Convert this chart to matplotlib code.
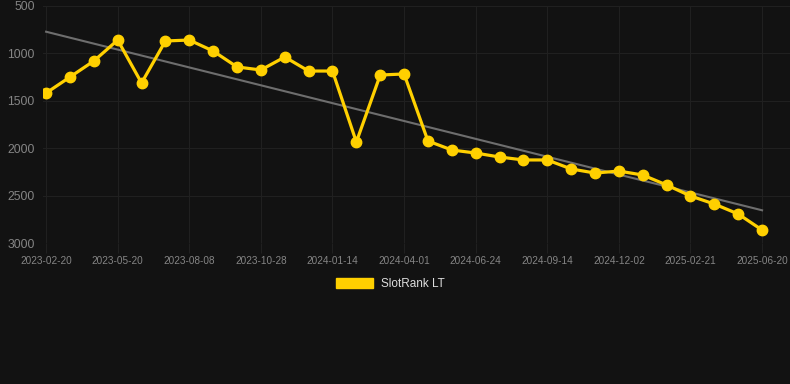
import numpy as np
import matplotlib
matplotlib.use("Agg")
import matplotlib.pyplot as plt
from matplotlib.patches import Patch

# Data (rank values; lower is better, axis inverted)
dates = ["2023-02-20", "", "", "2023-05-20", "", "", "2023-08-08", "", "",
         "2023-10-28", "", "", "2024-01-14", "", "", "2024-04-01", "", "",
         "2024-06-24", "", "", "2024-09-14", "", "", "2024-12-02", "", "",
         "2025-02-21", "", "", "2025-06-20"]
ranks = [1418, 1249, 1080, 859, 1312, 869, 859, 975, 1143, 1175,
         1038, 1186, 1186, 1935, 1228, 1217, 1924, 2019, 2051, 2093,
         2124, 2124, 2219, 2262, 2241, 2283, 2388, 2504, 2589, 2694, 2863]
series_name = "SlotRank LT"
y_ticks = [500, 1000, 1500, 2000, 2500, 3000]

BG = "#121212"
GOLD = "#FFD000"
TXT = "#858585"
GRID = "#202020"

fig = plt.figure(figsize=(7.9, 3.84), dpi=100, facecolor=BG)
ax = fig.add_axes([43/790, (384-243)/384, (790-43)/790, (243-6)/384])
ax.set_facecolor(BG)

x = np.arange(len(ranks))
# trend line (linear regression)
coef = np.polyfit(x, ranks, 1)
ax.plot(x, np.polyval(coef, x), color="#6e6e6e", lw=1.5, zorder=2)

ax.plot(x, ranks, color=GOLD, lw=2.3, marker="o", markersize=7.5,
        markerfacecolor=GOLD, markeredgecolor=GOLD, zorder=3)

ax.set_ylim(3000, 500)
ax.set_xlim(-0.13, len(ranks) - 1 + 1.17)
ax.set_yticks(y_ticks)
ax.set_yticklabels([str(v) for v in y_ticks])
tick_pos = [i for i, d in enumerate(dates) if d]
ax.set_xticks(tick_pos)
ax.set_xticklabels([dates[i] for i in tick_pos])

for s in ax.spines.values():
    s.set_visible(False)
ax.grid(True, color=GRID, lw=0.8)
ax.set_axisbelow(True)
ax.tick_params(axis="y", length=0, pad=6, labelsize=8.8, labelcolor=TXT)
ax.tick_params(axis="x", length=7, color=GRID, pad=2, labelsize=7.2, labelcolor=TXT)
for lab in ax.get_xticklabels() + ax.get_yticklabels():
    lab.set_fontfamily(["Liberation Sans", "DejaVu Sans"])

leg = fig.legend(handles=[Patch(facecolor=GOLD, edgecolor=GOLD, label=series_name)],
                 loc="center", bbox_to_anchor=(390/790, 1 - 284/384),
                 frameon=False, handlelength=3.2, handleheight=0.85,
                 handletextpad=0.6,
                 prop={"family": ["Liberation Sans", "DejaVu Sans"], "size": 8.5})
for t in leg.get_texts():
    t.set_color("#dddddd")

fig.savefig("out.png", dpi=100, facecolor=BG)
